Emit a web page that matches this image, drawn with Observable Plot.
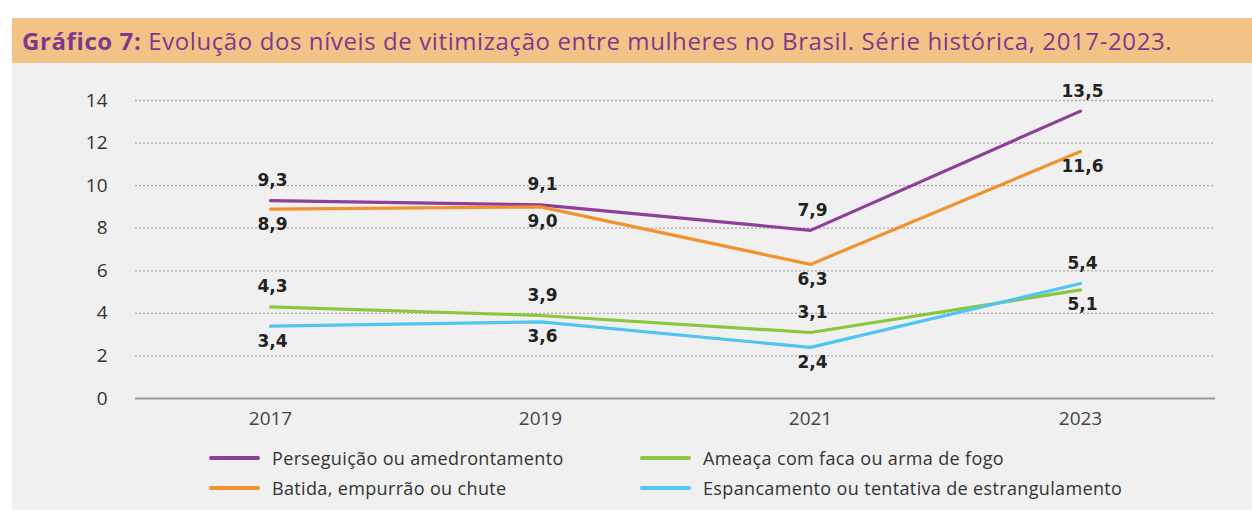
<!DOCTYPE html>
<html>
<head>
<meta charset="utf-8">
<script src="https://cdn.jsdelivr.net/npm/d3@7"></script>
<script src="https://cdn.jsdelivr.net/npm/@observablehq/plot@0.6"></script>
<style>
  html, body { margin: 0; padding: 0; background: #ffffff; }
  #wrap { position: absolute; left: 12px; top: 18px; width: 1240px; height: 492px; background: #f0f0f0; }
  #title { height: 45px; background: #f3c287; color: #7b3a8e; font-family: "Open Sans", sans-serif; font-size: 24px; letter-spacing: 0.6px; line-height: 45px; padding-left: 10px; white-space: nowrap; }
  #title b { font-weight: 700; }
  #chart { position: absolute; left: 0; top: 45px; }
  #legend { position: absolute; left: 0; top: 428px; width: 1240px; font-family: "Open Sans", sans-serif; font-size: 18px; letter-spacing: 0.35px; color: #333; }
  .item { position: absolute; display: flex; align-items: center; white-space: nowrap; }
  .sw { width: 51px; height: 4px; border-radius: 2px; margin-right: 12px; }
</style>
</head>
<body>
<div id="wrap">
  <div id="title"><b>Gráfico 7:</b> Evolução dos níveis de vitimização entre mulheres no Brasil. Série histórica, 2017-2023.</div>
  <div id="chart"></div>
  <div id="legend"></div>
</div>
<script>
const years = [2017, 2019, 2021, 2023];
const seriesNames = [
  "Perseguição ou amedrontamento",
  "Batida, empurrão ou chute",
  "Ameaça com faca ou arma de fogo",
  "Espancamento ou tentativa de estrangulamento"
];
const perseguicao = [9.3, 9.1, 7.9, 13.5];
const batida = [8.9, 9.0, 6.3, 11.6];
const ameaca = [4.3, 3.9, 3.1, 5.1];
const espancamento = [3.4, 3.6, 2.4, 5.4];
const colors = ["#8e3f99", "#f0932e", "#8cc63f", "#4fc5f0"];
const yTicks = [0, 2, 4, 6, 8, 10, 12, 14];

const seriesValues = [perseguicao, batida, ameaca, espancamento];
// each series is compared with its neighbour to decide on which side its label goes
const partner = [1, 0, 3, 2];
const data = [];
seriesValues.forEach((vals, si) => {
  vals.forEach((v, i) => {
    const other = seriesValues[partner[si]][i];
    data.push({
      serie: seriesNames[si],
      year: String(years[i]),
      value: v,
      above: v >= other,
      label: v.toFixed(1).replace(".", ",")
    });
  });
});

const plot = Plot.plot({
  width: 1240,
  height: 370,
  marginLeft: 123,
  marginRight: 37,
  marginTop: 37,
  marginBottom: 35,
  style: { background: "transparent", fontFamily: "Open Sans, sans-serif", fontSize: "19px", overflow: "visible" },
  x: { type: "point", domain: years.map(String), padding: 0.5, label: null },
  y: { domain: [0, 14], label: null },
  color: { domain: seriesNames, range: colors },
  marks: [
    Plot.ruleY(yTicks.filter(d => d > 0), { stroke: "#a8a8a8", strokeDasharray: "2,2", strokeWidth: 1.3 }),
    Plot.ruleY([0], { stroke: "#9a9a9a", strokeWidth: 2 }),
    Plot.axisY({ ticks: yTicks, tickSize: 0, tickPadding: 28, fill: "#333", fontSize: 19, label: null, tickFormat: d => d }),
    Plot.axisX({ tickSize: 0, tickPadding: 13, fill: "#444", fontSize: 19, label: null }),
    Plot.line(data, { x: "year", y: "value", z: "serie", stroke: "serie", strokeWidth: 3.2 }),
    Plot.text(data.filter(d => d.above), { x: "year", y: "value", text: "label", dx: 2, dy: -20, fontSize: 17, fontWeight: "bold", fill: "#222", fontFamily: "DejaVu Sans, sans-serif" }),
    Plot.text(data.filter(d => !d.above), { x: "year", y: "value", text: "label", dx: 2, dy: 15, fontSize: 17, fontWeight: "bold", fill: "#222", fontFamily: "DejaVu Sans, sans-serif" })
  ]
});
document.getElementById("chart").appendChild(plot);

const legend = document.getElementById("legend");
const positions = [[197, 0], [197, 30], [628, 0], [628, 30]];
seriesNames.forEach((name, i) => {
  const it = document.createElement("div");
  it.className = "item";
  it.style.left = positions[i][0] + "px";
  it.style.top = positions[i][1] + "px";
  it.innerHTML = `<span class="sw" style="background:${colors[i]}"></span><span>${name}</span>`;
  legend.appendChild(it);
});
</script>
</body>
</html>
